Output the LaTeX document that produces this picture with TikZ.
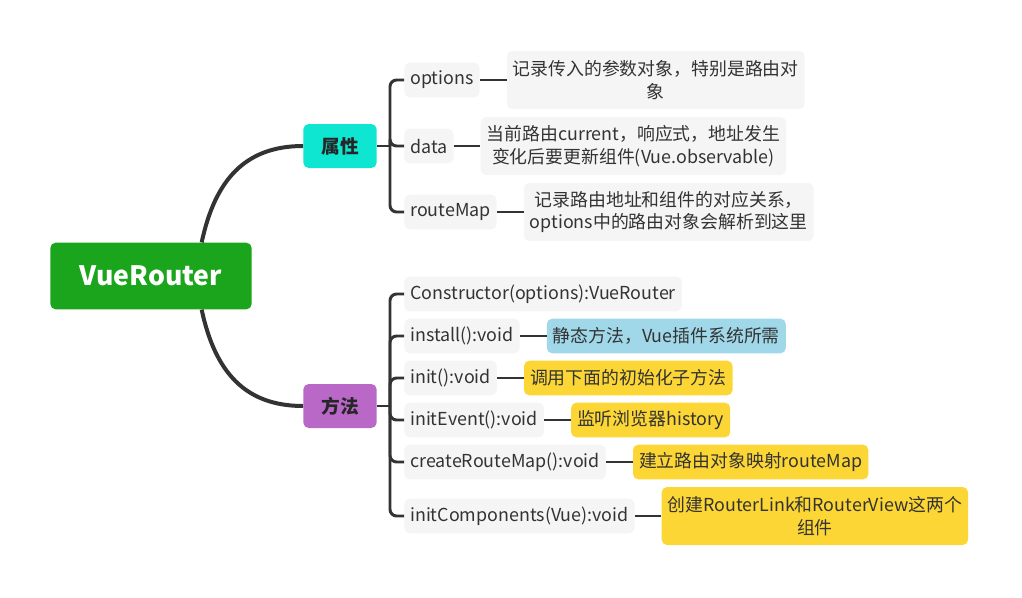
\documentclass[tikz,border=0pt]{standalone}
\usepackage{fontspec}
\setmainfont{Noto Sans CJK SC}
\usepackage{tikz}
\usetikzlibrary{positioning,calc}
\usepackage{xcolor}
\definecolor{rootcolor}{RGB}{27, 165, 28}
\definecolor{attrcolor}{RGB}{14, 230, 209}
\definecolor{methodcolor}{RGB}{186, 104, 200}
\definecolor{leafcolor}{RGB}{245, 245, 245}
\definecolor{staticcolor}{RGB}{160, 216, 234}
\definecolor{notecolor}{RGB}{252, 214, 52}
\definecolor{linecolor}{RGB}{51, 51, 51}

\begin{document}
\begin{tikzpicture}[
    x=0.75pt, y=-0.75pt,
    root/.style={rectangle, rounded corners=4pt, fill=rootcolor, text=white, font=\fontsize{20}{24}\selectfont\bfseries, minimum width=151pt, minimum height=50pt},
    branch/.style={rectangle, rounded corners=4pt, text=black!85, font=\fontsize{14}{17}\selectfont\bfseries, minimum width=55pt, minimum height=33pt},
    leaf/.style={rectangle, rounded corners=4pt, fill=leafcolor, text=linecolor, font=\fontsize{13.4}{17}\selectfont, inner xsep=4.5pt, minimum height=26pt},
    note/.style={leaf, align=center, minimum height=43.5pt},
    trunk/.style={draw=linecolor, line width=3pt},
    twig/.style={draw=linecolor, line width=2.2pt},
    fork/.style={twig, rounded corners=5pt}
]
    \useasboundingbox (0,0) rectangle (1022,597);

    % Main nodes
    \node[root] (router) at (151, 276) {VueRouter};
    \node[branch, fill=attrcolor] (attr) at (340, 146) {属性};
    \node[branch, fill=methodcolor] (method) at (340, 406) {方法};

    \draw[trunk] ([xshift=38pt]router.north) .. controls (215, 180) and (245, 146) .. (attr.west);
    \draw[trunk] ([xshift=38pt]router.south) .. controls (215, 372) and (245, 406) .. (method.west);

    % Attributes
    \node[leaf, anchor=west] (options) at (404, 80) {options};
    \node[leaf, anchor=west] (data) at (404, 146) {data};
    \node[leaf, anchor=west] (routemap) at (404, 212) {routeMap};

    \node[note, right=20pt of options] (optionsnote) {记录传入的参数对象，特别是路由对\\象};
    \node[note, right=20pt of data] (datanote) {当前路由current，响应式，地址发生\\变化后要更新组件(Vue.observable)};
    \node[note, right=20pt of routemap] (routemapnote) {记录路由地址和组件的对应关系，\\options中的路由对象会解析到这里};

    \coordinate (attrfork) at (390, 146);
    \draw[twig] (attr.east) -- (attrfork);
    \foreach \child in {options, data, routemap}
        \draw[fork] (attrfork) |- (\child.west);
    \foreach \child in {options, data, routemap}
        \draw[twig] (\child.east) -- (\child note.west);

    % Methods
    \node[leaf, anchor=west] (constructor) at (404, 294) {Constructor(options):VueRouter};
    \node[leaf, anchor=west] (install) at (404, 336) {install():void};
    \node[leaf, anchor=west] (init) at (404, 378) {init():void};
    \node[leaf, anchor=west] (initevent) at (404, 420) {initEvent():void};
    \node[leaf, anchor=west] (createroutemap) at (404, 462) {createRouteMap():void};
    \node[leaf, anchor=west] (initcomponents) at (404, 516) {initComponents(Vue):void};

    \node[leaf, fill=staticcolor, right=20pt of install] (installnote) {静态方法，Vue插件系统所需};
    \node[leaf, fill=notecolor, right=20pt of init] (initnote) {调用下面的初始化子方法};
    \node[leaf, fill=notecolor, right=20pt of initevent] (initeventnote) {监听浏览器history};
    \node[leaf, fill=notecolor, right=20pt of createroutemap] (createroutemapnote) {建立路由对象映射routeMap};
    \node[note, fill=notecolor, right=20pt of initcomponents] (initcomponentsnote) {创建RouterLink和RouterView这两个\\组件};

    \coordinate (methodfork) at (390, 406);
    \draw[twig] (method.east) -- (methodfork);
    \foreach \child in {constructor, install, init, initevent, createroutemap, initcomponents}
        \draw[fork] (methodfork) |- (\child.west);
    \foreach \child in {install, init, initevent, createroutemap, initcomponents}
        \draw[twig] (\child.east) -- (\child note.west);
\end{tikzpicture}
\end{document}
